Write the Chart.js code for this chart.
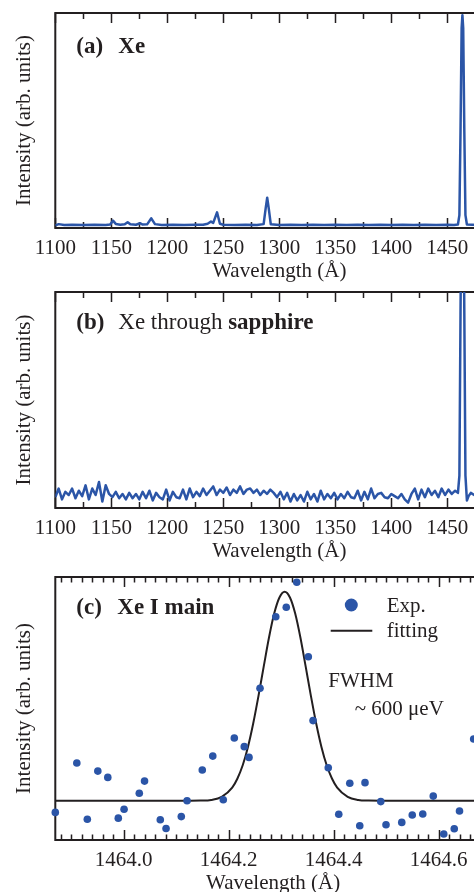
<!DOCTYPE html>
<html>
<head>
<meta charset="utf-8">
<script src="https://cdn.jsdelivr.net/npm/chart.js@4.4.1/dist/chart.umd.min.js"></script>
<style>
  html, body { margin: 0; padding: 0; background: #fff; overflow: hidden; }
  body { width: 474px; height: 892px; position: relative; }
  canvas { position: absolute; left: 0; }
</style>
</head>
<body>
<canvas id="chartA" width="540" height="285" style="top:0px"></canvas>
<canvas id="chartB" width="540" height="280" style="top:285px"></canvas>
<canvas id="chartC" width="540" height="332" style="top:565px"></canvas>
<script>
// ---- data ----
// (a) Xe spectrum
const wlA = [1100, 1103, 1108, 1115, 1125, 1135, 1145, 1149, 1151.5, 1154,
  1158, 1162, 1164.6, 1167, 1172, 1175.9, 1178, 1182, 1185.7, 1189,
  1195, 1205, 1215, 1225, 1232, 1236, 1239, 1241, 1244.4, 1247,
  1250, 1260, 1270, 1280, 1286, 1287.8, 1289.2, 1290.6, 1292.4, 1300,
  1310, 1320, 1330, 1340, 1350, 1360, 1370, 1380, 1390, 1400,
  1410, 1420, 1430, 1440, 1450, 1456, 1459.5, 1460.8, 1461.8, 1462.8,
  1463.5, 1464.2, 1465.2, 1466.2, 1467.5, 1472, 1480, 1490, 1500];
const intA = [0.012, 0.018, 0.014, 0.015, 0.014, 0.015, 0.014, 0.016, 0.034, 0.019,
  0.015, 0.017, 0.027, 0.017, 0.015, 0.022, 0.016, 0.017, 0.045, 0.018,
  0.014, 0.015, 0.014, 0.015, 0.015, 0.02, 0.03, 0.024, 0.073, 0.02,
  0.015, 0.014, 0.015, 0.014, 0.018, 0.09, 0.141, 0.09, 0.017, 0.014,
  0.015, 0.014, 0.015, 0.014, 0.015, 0.014, 0.015, 0.014, 0.015, 0.014,
  0.015, 0.014, 0.015, 0.014, 0.015, 0.014, 0.016, 0.06, 0.45, 0.93,
  0.99, 0.93, 0.45, 0.06, 0.016, 0.015, 0.014, 0.015, 0.014];

// (b) Xe through sapphire: regular 3 A sampling from 1100, then the line region
const gridStartB = 1100, gridStepB = 3;
const intBGrid = [0.05, 0.09, 0.04, 0.075, 0.06, 0.09, 0.045, 0.08, 0.055, 0.105,
  0.04, 0.09, 0.06, 0.12, 0.03, 0.105, 0.065, 0.05, 0.075, 0.045,
  0.065, 0.04, 0.07, 0.045, 0.065, 0.04, 0.075, 0.045, 0.08, 0.035,
  0.07, 0.05, 0.04, 0.085, 0.035, 0.075, 0.05, 0.045, 0.085, 0.04,
  0.09, 0.05, 0.075, 0.055, 0.09, 0.06, 0.08, 0.1, 0.06, 0.085,
  0.07, 0.095, 0.06, 0.085, 0.07, 0.1, 0.065, 0.085, 0.09, 0.07,
  0.085, 0.06, 0.08, 0.065, 0.085, 0.07, 0.05, 0.075, 0.04, 0.07,
  0.03, 0.065, 0.035, 0.06, 0.03, 0.075, 0.04, 0.065, 0.03, 0.08,
  0.04, 0.065, 0.045, 0.07, 0.04, 0.065, 0.045, 0.075, 0.05, 0.045,
  0.08, 0.035, 0.075, 0.04, 0.09, 0.045, 0.065, 0.07, 0.05, 0.045,
  0.065, 0.055, 0.045, 0.065, 0.04, 0.025, 0.065, 0.09, 0.04, 0.085,
  0.05, 0.09, 0.06, 0.08, 0.05, 0.09, 0.06, 0.085, 0.065, 0.08];
const wlBLine = [1459.5, 1460.8, 1461.8, 1462.8, 1463.5, 1464.2, 1465.2, 1466.2, 1467.5, 1469,
  1471, 1474, 1478, 1482, 1486, 1490, 1494, 1498, 1500];
const intBLine = [0.07, 0.15, 0.9, 1.6, 1.75, 1.6, 0.9, 0.15, 0.035, 0.055,
  0.07, 0.06, 0.075, 0.055, 0.07, 0.06, 0.065, 0.055, 0.06];

const ticksAB = [1100, 1150, 1200, 1250, 1300, 1350, 1400, 1450, 1500];

// (c) Xe I main line, measured points and fit
const wlExp = [1463.870, 1463.911, 1463.931, 1463.951, 1463.970, 1463.990, 1464.001, 1464.030, 1464.040, 1464.070,
  1464.081, 1464.110, 1464.121, 1464.150, 1464.170, 1464.190, 1464.211, 1464.230, 1464.239, 1464.260,
  1464.290, 1464.310, 1464.330, 1464.352, 1464.361, 1464.390, 1464.410, 1464.431, 1464.450, 1464.460,
  1464.490, 1464.500, 1464.530, 1464.550, 1464.570, 1464.590, 1464.610, 1464.630, 1464.640, 1464.667];
const intExp = [0.105, 0.293, 0.079, 0.262, 0.238, 0.083, 0.117, 0.178, 0.224, 0.077,
  0.044, 0.089, 0.149, 0.266, 0.319, 0.153, 0.388, 0.355, 0.314, 0.577,
  0.849, 0.885, 0.980, 0.697, 0.454, 0.275, 0.098, 0.216, 0.054, 0.218,
  0.146, 0.058, 0.067, 0.095, 0.099, 0.167, 0.023, 0.043, 0.110, 0.384];
const wlFit = [1463.870, 1464.100, 1464.147, 1464.167, 1464.187, 1464.207, 1464.217, 1464.227, 1464.237, 1464.247,
  1464.257, 1464.267, 1464.277, 1464.287, 1464.297, 1464.307, 1464.317, 1464.327, 1464.337, 1464.347,
  1464.357, 1464.367, 1464.377, 1464.387, 1464.397, 1464.407, 1464.427, 1464.447, 1464.467, 1464.520, 1464.720];
const intFit = [0.149, 0.149, 0.150, 0.1525, 0.164, 0.199, 0.234, 0.284, 0.354, 0.443,
  0.547, 0.659, 0.769, 0.861, 0.922, 0.944, 0.922, 0.861, 0.769, 0.659,
  0.547, 0.443, 0.354, 0.284, 0.234, 0.199, 0.164, 0.1525, 0.150, 0.149, 0.149];
const ticksC = [1464.0, 1464.2, 1464.4, 1464.6];

// ---- styling ----
const FONT = '"Liberation Serif", "Times New Roman", serif';
const INK = '#231f20';
const BLUE = '#2b55a7';

const wlB = intBGrid.map((_, i) => gridStartB + gridStepB * i).concat(wlBLine);
const intB = intBGrid.concat(intBLine);

const pts = (xs, ys) => xs.map((x, i) => ({ x: x, y: ys[i] }));

// frame + inward ticks on bottom and top
function frameTicks(minorStep, majorEvery, majorLen, minorLen) {
  return {
    id: 'frameTicks',
    beforeDatasetsDraw(chart) {
      const { ctx, chartArea: a, scales: { x } } = chart;
      ctx.save();
      ctx.strokeStyle = INK;
      ctx.lineWidth = 1.5;
      const k0 = Math.ceil(x.min / minorStep - 1e-6);
      const k1 = Math.floor(x.max / minorStep + 1e-6);
      ctx.beginPath();
      for (let k = k0; k <= k1; k++) {
        const px = Math.round(x.getPixelForValue(k * minorStep)) + 0.5;
        const len = k % majorEvery === 0 ? majorLen : minorLen;
        ctx.moveTo(px, a.bottom); ctx.lineTo(px, a.bottom - len);
        ctx.moveTo(px, a.top); ctx.lineTo(px, a.top + len);
      }
      ctx.stroke();
      ctx.lineWidth = 2;
      ctx.strokeRect(a.left, a.top, a.right - a.left, a.bottom - a.top);
      ctx.restore();
    }
  };
}

// text placed relative to the plot area
function annotate(items, extra) {
  return {
    id: 'annotate',
    afterDatasetsDraw(chart) {
      const { ctx, chartArea: a } = chart;
      ctx.save();
      ctx.fillStyle = INK;
      ctx.textAlign = 'left';
      ctx.textBaseline = 'alphabetic';
      let lastEnd = 0;
      items.forEach(it => {
        ctx.font = (it.bold ? 'bold ' : '') + it.size + 'px ' + FONT;
        const x = it.follow ? lastEnd : a.left + it.dx;
        ctx.fillText(it.text, x, a.top + it.dy);
        lastEnd = x + ctx.measureText(it.text).width;
      });
      if (extra) extra(ctx, a);
      ctx.restore();
    }
  };
}

function xAxis(min, max, tickVals, fmt) {
  return {
    type: 'linear', min: min, max: max,
    afterBuildTicks: s => { s.ticks = tickVals.map(v => ({ value: v })); },
    ticks: {
      font: { family: FONT, size: 21, lineHeight: 1.2 }, color: INK,
      padding: 8, maxRotation: 0, autoSkip: false, callback: fmt
    },
    grid: { display: false, drawTicks: false, tickLength: 0 },
    border: { display: false },
    title: {
      display: true, text: 'Wavelength (Å)', color: INK,
      font: { family: FONT, size: 21, lineHeight: 1.2 },
      padding: { top: -10, bottom: 0.6 }
    }
  };
}

function yAxis() {
  return {
    min: 0, max: 1,
    ticks: { display: false },
    grid: { display: false, drawTicks: false, tickLength: 0 },
    border: { display: false },
    title: {
      display: true, text: 'Intensity (arb. units)', color: INK,
      font: { family: FONT, size: 21, lineHeight: 1.2 },
      padding: { top: 11.4, bottom: 18.7 }
    }
  };
}

const baseOpts = (padTop, padRight, xs) => ({
  responsive: false, animation: false, devicePixelRatio: 1,
  layout: { padding: { top: padTop, right: padRight, left: 0, bottom: 0 } },
  plugins: { legend: { display: false }, tooltip: { enabled: false } },
  scales: { x: xs, y: yAxis() }
});

function spectrum(id, xs, ys, padTop, labels) {
  return new Chart(document.getElementById(id), {
    type: 'line',
    data: {
      datasets: [{
        data: pts(xs, ys), borderColor: BLUE, borderWidth: 2.5,
        pointRadius: 0, tension: 0, fill: false, borderJoinStyle: 'round'
      }]
    },
    options: baseOpts(padTop, 36.7, xAxis(1100, 1500, ticksAB, v => String(v))),
    plugins: [frameTicks(25, 2, 10, 6), annotate(labels)]
  });
}

spectrum('chartA', wlA, intA, 13, [
  { text: '(a)', dx: 21, dy: 40, bold: true, size: 23 },
  { text: 'Xe', dx: 63, dy: 40, bold: true, size: 23 }
]);

spectrum('chartB', wlB, intB, 7, [
  { text: '(b)', dx: 21, dy: 37, bold: true, size: 23 },
  { text: 'Xe through ', dx: 63, dy: 37, bold: false, size: 23 },
  { text: 'sapphire', follow: true, dy: 37, bold: true, size: 23 }
]);

new Chart(document.getElementById('chartC'), {
  type: 'scatter',
  data: {
    datasets: [
      {
        label: 'Exp.', data: pts(wlExp, intExp),
        backgroundColor: BLUE, borderColor: BLUE, pointRadius: 3.8, borderWidth: 0, clip: false
      },
      {
        label: 'fitting', data: pts(wlFit, intFit), showLine: true,
        borderColor: INK, borderWidth: 2, pointRadius: 0, cubicInterpolationMode: 'monotone'
      }
    ]
  },
  options: baseOpts(12, 49, xAxis(1463.87, 1464.70, ticksC, v => v.toFixed(1))),
  plugins: [
    frameTicks(0.02, 10, 10, 5.5),
    annotate([
      { text: '(c)', dx: 21, dy: 37.3, bold: true, size: 23 },
      { text: 'Xe I main', dx: 62, dy: 37.3, bold: true, size: 23 },
      { text: 'Exp.', dx: 331.4, dy: 34.7, bold: false, size: 21 },
      { text: 'fitting', dx: 331.4, dy: 59.7, bold: false, size: 21 },
      { text: 'FWHM', dx: 273, dy: 109.7, bold: false, size: 21 },
      { text: '~ 600 μeV', dx: 299.4, dy: 138, bold: false, size: 21 }
    ], (ctx, a) => {
      // legend marks
      ctx.fillStyle = BLUE;
      ctx.beginPath();
      ctx.arc(a.left + 296, a.top + 28, 6.5, 0, Math.PI * 2);
      ctx.fill();
      ctx.strokeStyle = INK;
      ctx.lineWidth = 2;
      ctx.beginPath();
      ctx.moveTo(a.left + 275.4, a.top + 53.7);
      ctx.lineTo(a.left + 317, a.top + 53.7);
      ctx.stroke();
    })
  ]
});
</script>
</body>
</html>
